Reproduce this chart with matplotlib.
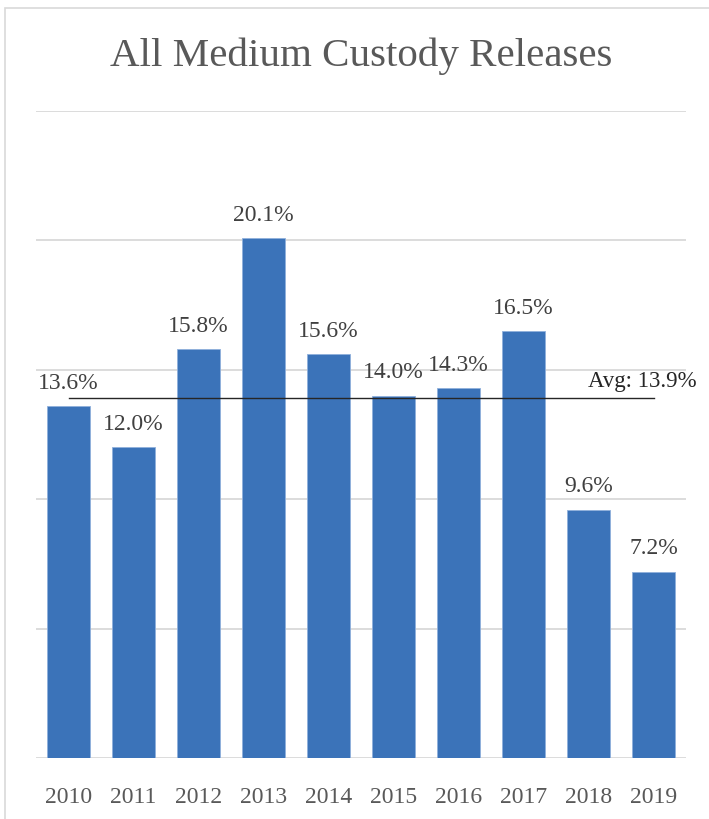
import matplotlib.pyplot as plt
from matplotlib.patches import Rectangle

# data
years = ['2010', '2011', '2012', '2013', '2014', '2015', '2016', '2017', '2018', '2019']
rates = [13.6, 12.0, 15.8, 20.1, 15.6, 14.0, 14.3, 16.5, 9.6, 7.2]
avg = 13.9
title = 'All Medium Custody Releases'

plt.rcParams['font.family'] = ['Liberation Serif', 'DejaVu Serif']

W, H = 709, 820
fig = plt.figure(figsize=(W / 100, H / 100), dpi=100)

# light chart border (open at the right and bottom, like the crop)
fig.patches.append(Rectangle((5 / W, -0.1), 1, 1.1 - 9 / H, transform=fig.transFigure,
                             fill=False, edgecolor='#d9d9d9', linewidth=1.2))

ax = fig.add_axes([36 / W, 61 / H, 650 / W, 647 / H])
x = range(len(years))
bars = ax.bar(x, rates, width=0.67, color='#3b73b9', edgecolor='#8fb0dc',
              linewidth=0.6, zorder=2)

ax.set_xlim(-0.5, len(years) - 0.5)
ax.set_ylim(0, 25)
ax.set_yticks([0, 5, 10, 15, 20, 25])
ax.yaxis.grid(True, color='#d9d9d9', linewidth=1.3, zorder=0)
ax.set_axisbelow(True)
ax.tick_params(axis='y', left=False, labelleft=False)
ax.tick_params(axis='x', length=0, pad=20, labelsize=17, labelcolor='#595959')
ax.set_xticks(list(x))
ax.set_xticklabels(years)
for s in ax.spines.values():
    s.set_visible(False)

for xi, v in zip(x, rates):
    ax.annotate(f'{v:.1f}%', (xi, v), xytext=(0, 9.5), textcoords='offset points',
                ha='center', va='bottom', fontsize=17, color='#404040')

# average line
ax.plot([0, len(years) - 1], [avg, avg], color='#262626', linewidth=1.0, zorder=3)
ax.annotate(f'Avg: {avg}%', (len(years) - 1, avg), xytext=(31, 8.5),
            textcoords='offset points', ha='right', va='baseline',
            fontsize=16.5, color='#262626', annotation_clip=False)

fig.text(361 / W, 1 - 56 / H, title, ha='center', va='center',
         fontsize=29.5, color='#595959')

fig.savefig('out.png', dpi=100)
